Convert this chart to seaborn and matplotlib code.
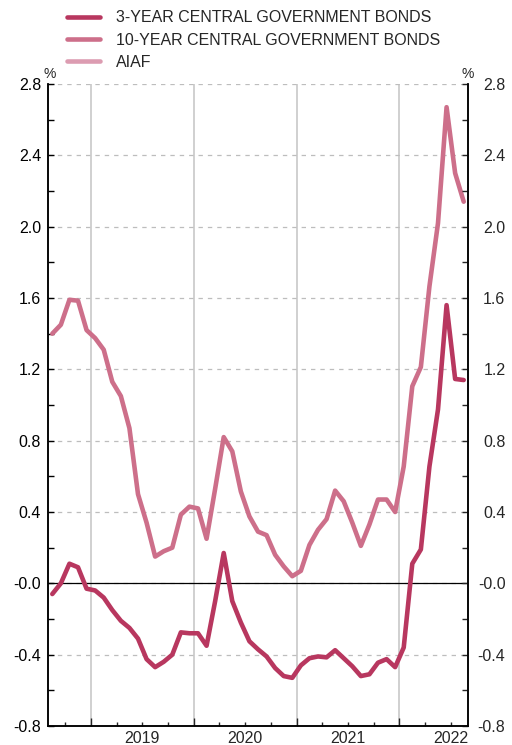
import numpy as np
import pandas as pd
import matplotlib
matplotlib.use('Agg')
import matplotlib.pyplot as plt
import seaborn as sns

# monthly observations, Aug 2018 - Aug 2022
months = pd.date_range('2018-08-01', '2022-08-01', freq='MS')

bonds_3y = [
    -0.06, 0.00, 0.11, 0.09, -0.03,
    -0.04, -0.08, -0.15, -0.21, -0.25, -0.31, -0.425, -0.47, -0.44, -0.40, -0.275, -0.28,
    -0.28, -0.35, -0.10, 0.17, -0.10, -0.22, -0.325, -0.37, -0.41, -0.475, -0.52, -0.53,
    -0.46, -0.42, -0.41, -0.415, -0.375, -0.42, -0.465, -0.52, -0.51, -0.445, -0.425, -0.47,
    -0.36, 0.11, 0.19, 0.655, 0.975, 1.56, 1.146, 1.14,
]
bonds_10y = [
    1.40, 1.45, 1.59, 1.585, 1.42,
    1.375, 1.31, 1.13, 1.05, 0.87, 0.50, 0.34, 0.15, 0.18, 0.20, 0.385, 0.43,
    0.42, 0.25, 0.53, 0.82, 0.74, 0.515, 0.375, 0.29, 0.27, 0.16, 0.095, 0.04,
    0.07, 0.215, 0.30, 0.36, 0.52, 0.46, 0.34, 0.21, 0.33, 0.47, 0.47, 0.40,
    0.655, 1.105, 1.213, 1.665, 2.02, 2.67, 2.30, 2.14,
]

series_names = ['3-YEAR CENTRAL GOVERNMENT BONDS', '10-YEAR CENTRAL GOVERNMENT BONDS', 'AIAF']
series_colors = ['#b8375f', '#cd6f8a', '#dc9cb1']

y_ticks = [-0.8, -0.4, 0.0, 0.4, 0.8, 1.2, 1.6, 2.0, 2.4, 2.8]
y_tick_labels = ['-0.8', '-0.4', '-0.0', '0.4', '0.8', '1.2', '1.6', '2.0', '2.4', '2.8']
years = [2019, 2020, 2021, 2022]

sns.set_style('white')
plt.rcParams['font.family'] = ['Liberation Sans', 'DejaVu Sans']

# month centres as decimal years
x = months.year + (months.month - 0.5) / 12
df = pd.DataFrame({'x': x, '3y': bonds_3y, '10y': bonds_10y})

fig = plt.figure(figsize=(5.12, 7.45), dpi=100)
ax = fig.add_axes([48 / 512, 1 - 726 / 745, 420 / 512, 642 / 745])

sns.lineplot(data=df, x='x', y='10y', ax=ax, color=series_colors[1], lw=3.3,
             label=series_names[1], zorder=4, legend=False)
sns.lineplot(data=df, x='x', y='3y', ax=ax, color=series_colors[0], lw=3.3,
             label=series_names[0], zorder=5, legend=False)
ax.axhline(0, color='black', lw=0.9, zorder=3)

ax.set_xlim(2018 + 7 / 12, 2022 + 8 / 12)
ax.set_ylim(-0.8, 2.8)
ax.set_xlabel('')
ax.set_ylabel('')

# y axis: ticks on both sides, labels right-aligned on the right
ax.set_yticks(y_ticks)
ax.set_yticklabels(y_tick_labels)
ax.set_yticks(np.arange(-0.6, 2.8, 0.4), minor=True)
ax.tick_params(axis='y', which='both', direction='in', length=4, width=1,
               left=True, right=True, labelsize=11.5, pad=5, colors='black')

ax2 = ax.twinx()
ax2.set_ylim(-0.8, 2.8)
ax2.set_yticks(y_ticks)
ax2.set_yticklabels(y_tick_labels)
ax2.set_yticks(np.arange(-0.6, 2.8, 0.4), minor=True)
ax2.tick_params(axis='y', which='both', direction='in', length=4, width=1,
                labelsize=11.5, pad=27)
for lab in ax2.get_yticklabels():
    lab.set_horizontalalignment('right')
for a in (ax, ax2):
    for side in ['left', 'right', 'bottom']:
        a.spines[side].set_color('black')
        a.spines[side].set_linewidth(1.1)
    a.spines['top'].set_visible(False)

# x axis: year lines, quarter ticks, labels at mid-year
ax.set_xticks(years)
ax.set_xticks(np.arange(2018.75, 2022.6, 0.25), minor=True)
ax.set_xticklabels([])
ax.tick_params(axis='x', which='major', direction='in', length=6, width=1, bottom=True)
ax.tick_params(axis='x', which='minor', direction='in', length=3, width=1, bottom=True)
ax.grid(axis='x', which='major', color='#d0d0d0', lw=1.4, ls='-')
ax.grid(axis='y', which='major', color='#bdbdbd', lw=0.9, ls=(0, (3.5, 4)))
ax.set_axisbelow(True)
for yr in years:
    ax.text(yr + 0.5, -0.008, str(yr), transform=ax.get_xaxis_transform(),
            ha='center', va='top', fontsize=11.5)

ax.text(0.004, 1.005, '%', transform=ax.transAxes, ha='center', va='bottom', fontsize=10)
ax.text(1.0, 1.005, '%', transform=ax.transAxes, ha='center', va='bottom', fontsize=10)

# legend (AIAF has no visible observations)
handles = [plt.Line2D([], [], color=c, lw=3.3) for c in series_colors]
fig.legend(handles, series_names, loc='upper left', bbox_to_anchor=(61 / 512, 1 - 4 / 745),
           frameon=False, fontsize=11.5, handlelength=2.05, handletextpad=1.0,
           labelspacing=0.45, borderaxespad=0)

fig.savefig('out.png', dpi=100)
